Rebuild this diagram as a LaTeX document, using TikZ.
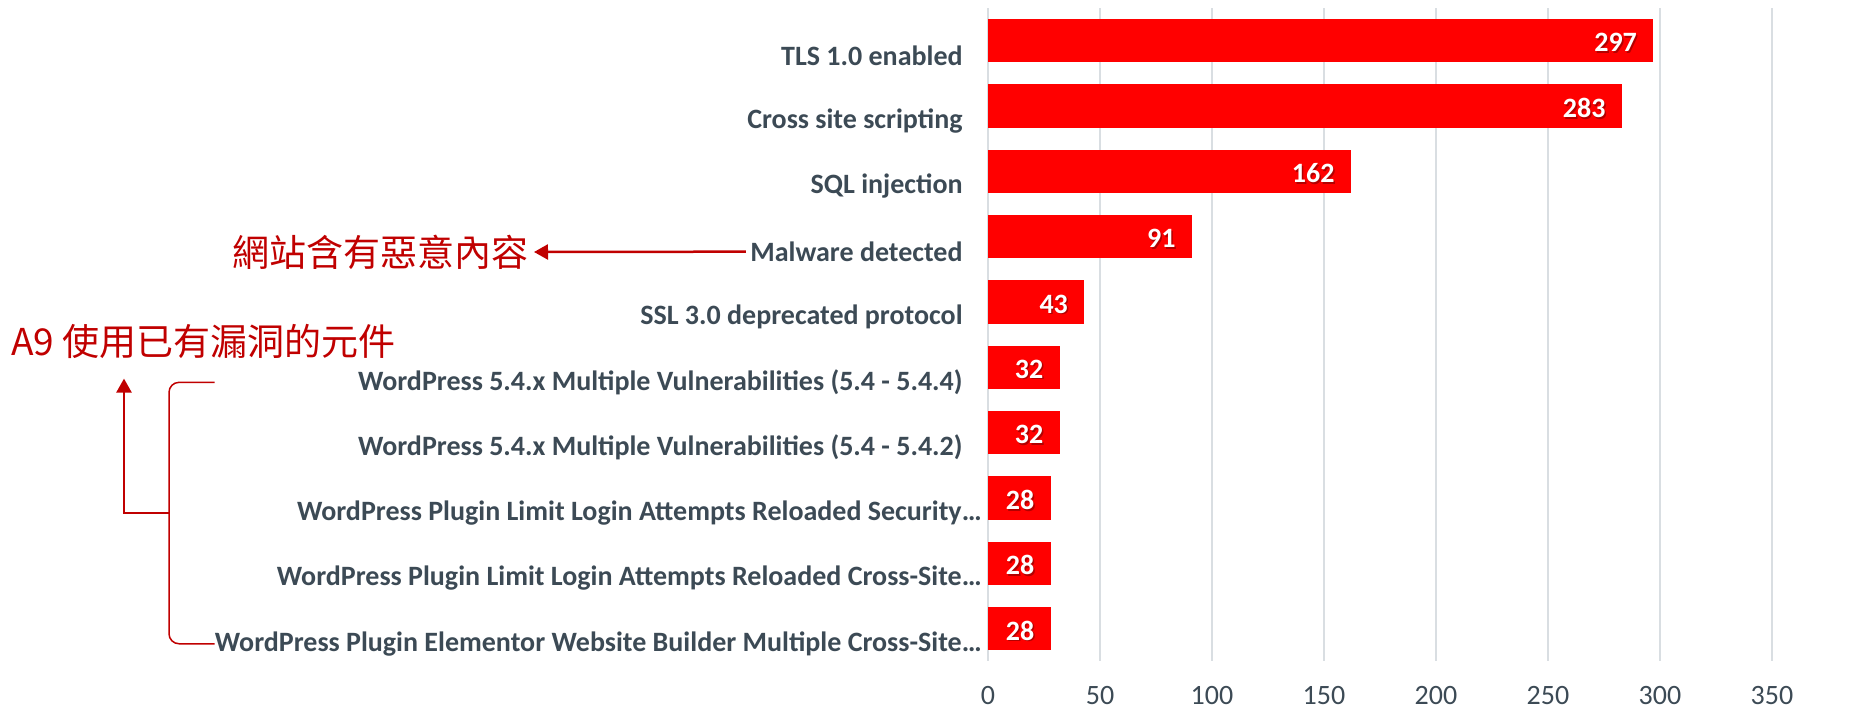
\documentclass[tikz,border=0pt]{standalone}
\usepackage{fontspec}
\setmainfont{Carlito}
\newfontfamily\cjk{Noto Sans CJK TC}
\usetikzlibrary{arrows.meta,calc}
\definecolor{vred}{HTML}{FF0000}
\definecolor{vdark}{HTML}{C00000}
\definecolor{vtext}{HTML}{3C4A55}
\definecolor{vgrid}{HTML}{D9DEE2}
\tikzset{
	rowlabel/.style = {anchor = east, text = vtext, inner sep = 0pt, font = \bfseries\fontsize{14}{16}\selectfont},
	barval/.style = {anchor = east, text = white, inner sep = 0pt, font = \bfseries\fontsize{14}{16}\selectfont},
	ticklabel/.style = {text = vtext, inner sep = 0pt, font = \fontsize{14}{16}\selectfont},
	note/.style = {text = vdark, inner sep = 0pt, font = \cjk\fontsize{18.5}{20}\selectfont},
	callout/.style = {draw = vdark, line width = 1.25pt, -{Triangle[length = 7pt, width = 7.5pt]}},
}

\begin{document}
\begin{tikzpicture}[x = 0.5pt, y = -0.5pt]
	\useasboundingbox (0,0) rectangle (1854,709);
	% grid
	\foreach \t in {0,50,...,350}{
		\draw[draw = vgrid, line width = 1pt] ({988+2.24*\t},8) -- ({988+2.24*\t},661);
		\node[ticklabel] (tick\t) at ({988+2.24*\t},695) {\t};
	}
	% bars
	\foreach \v/\rx/\name [count = \i] in {297/963/TLS 1.0 enabled, 283/963/Cross site scripting, 162/963/SQL injection, 91/963/Malware detected, 43/963/SSL 3.0 deprecated protocol, 32/963/WordPress 5.4.x Multiple Vulnerabilities (5.4 - 5.4.4), 32/963/WordPress 5.4.x Multiple Vulnerabilities (5.4 - 5.4.2), 28/982/WordPress Plugin Limit Login Attempts Reloaded Security…, 28/982/WordPress Plugin Limit Login Attempts Reloaded Cross-Site…, 28/982/WordPress Plugin Elementor Website Builder Multiple Cross-Site…}{
		\pgfmathsetmacro{\yc}{40.6+65.35*(\i-1)}
		\fill[vred] (988,{\yc-21.7}) rectangle ({988+2.24*\v},{\yc+21.7});
		\node[barval, text = black, opacity = 0.3] at ({988+2.24*\v-14.5},{\yc+3.5}) {\v};
		\node[barval] (val\i) at ({988+2.24*\v-16},{\yc+2}) {\v};
		\node[rowlabel] (lab\i) at (\rx,{\yc+15}) {\name};
	}
	% notes
	\node[note, anchor = east] (malnote) at (529,252) {網站含有惡意內容};
	\node[note, anchor = west] (a9note) at (11,341) {A9 使用已有漏洞的元件};
	\draw[callout, shorten <= 2pt, shorten > = 2.5pt] (lab4.west) -- (malnote.east);
	% bracket
	\coordinate (brx) at (169,0);
	\draw[draw = vdark, line width = 0.75pt, rounded corners = 5pt] (lab6.west -| lab10.west) -| (brx |- lab10.west) -- (lab10.west);
	\coordinate (brmid) at ($(brx |- lab6.west)!0.5!(brx |- lab10.west)$);
	\draw[callout, shorten > = 10pt] (brmid) -| ($(a9note.south west)+(113,0)$);
\end{tikzpicture}
\end{document}
